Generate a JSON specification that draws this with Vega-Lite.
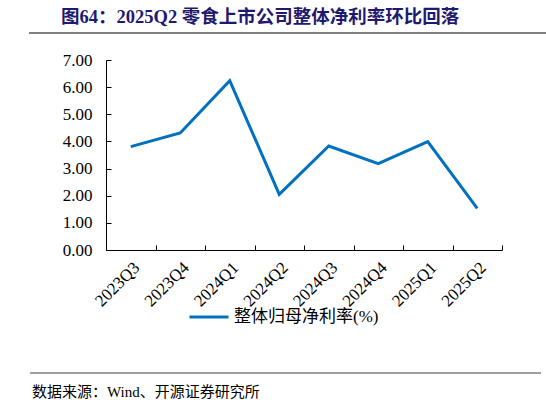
{
  "$schema": "https://vega.github.io/schema/vega-lite/v6.json",
  "padding": {"left": 0, "top": 8, "right": 0, "bottom": 0},
  "background": "white",
  "config": {
    "font": "Liberation Serif, Noto Sans CJK SC"
  },
  "datasets": {
    "margin": [
      {"quarter": "2023Q3", "rate": 3.81, "series": "整体归母净利率(%)"},
      {"quarter": "2023Q4", "rate": 4.31, "series": "整体归母净利率(%)"},
      {"quarter": "2024Q1", "rate": 6.24, "series": "整体归母净利率(%)"},
      {"quarter": "2024Q2", "rate": 2.05, "series": "整体归母净利率(%)"},
      {"quarter": "2024Q3", "rate": 3.83, "series": "整体归母净利率(%)"},
      {"quarter": "2024Q4", "rate": 3.18, "series": "整体归母净利率(%)"},
      {"quarter": "2025Q1", "rate": 3.99, "series": "整体归母净利率(%)"},
      {"quarter": "2025Q2", "rate": 1.53, "series": "整体归母净利率(%)"}
    ],
    "divider": [{"start": 0, "end": 1, "level": 0}]
  },
  "spacing": 17,
  "resolve": {
    "scale": {"x": "independent", "y": "independent", "color": "independent"},
    "axis": {"x": "independent", "y": "independent"},
    "legend": {"color": "independent"}
  },
  "vconcat": [
    {
      "data": {"name": "divider"},
      "width": 396,
      "height": 0.01,
      "view": {"stroke": null},
      "title": {
        "text": "图64：2025Q2 零食上市公司整体净利率环比回落",
        "anchor": "start",
        "frame": "group",
        "dx": -45,
        "offset": 6,
        "fontSize": 18.5,
        "fontWeight": "bold",
        "color": "#1F1A6E",
        "font": "Liberation Serif, Noto Sans CJK SC"
      },
      "mark": {"type": "rule", "color": "black", "strokeWidth": 1},
      "encoding": {
        "x": {"field": "start", "type": "quantitative", "scale": {"domain": [0, 1], "range": [-77, 440]}, "axis": null},
        "x2": {"field": "end"},
        "y": {"field": "level", "type": "quantitative", "scale": {"domain": [0, 1]}, "axis": null}
      }
    },
    {
      "data": {"name": "margin"},
      "width": 396,
      "height": 190,
      "view": {"stroke": null},
      "mark": {"type": "line", "strokeWidth": 3},
      "encoding": {
        "x": {
          "field": "quarter",
          "type": "nominal",
          "sort": null,
          "scale": {"paddingInner": 0, "paddingOuter": 0},
          "axis": {
            "title": null,
            "labelAngle": -45,
            "labelFontSize": 17,
            "labelColor": "black",
            "tickBand": "extent",
            "tickSize": -5,
            "labelPadding": 14,
            "domainColor": "black",
            "tickColor": "black",
            "domainWidth": 1
          }
        },
        "y": {
          "field": "rate",
          "type": "quantitative",
          "scale": {"domain": [0, 7]},
          "axis": {
            "title": null,
            "values": [0, 1, 2, 3, 4, 5, 6, 7],
            "format": ".2f",
            "grid": false,
            "tickSize": -5,
            "labelPadding": 19,
            "minExtent": 106,
            "maxExtent": 106,
            "domainColor": "black",
            "tickColor": "black",
            "labelFontSize": 17,
            "labelColor": "black"
          }
        },
        "color": {
          "field": "series",
          "type": "nominal",
          "scale": {"range": ["#0070C0"]},
          "legend": {
            "orient": "none",
            "legendX": 82,
            "legendY": 236,
            "title": null,
            "symbolType": "stroke",
            "symbolSize": 1521,
            "symbolStrokeWidth": 3,
            "labelFontSize": 17,
            "labelColor": "black",
            "labelFont": "Liberation Serif, Noto Sans CJK SC"
          }
        }
      }
    },
    {
      "data": {"name": "divider"},
      "width": 396,
      "height": 31,
      "view": {"stroke": null},
      "title": {
        "text": "数据来源：Wind、开源证券研究所",
        "orient": "bottom",
        "anchor": "start",
        "frame": "group",
        "dx": -74,
        "offset": 11,
        "fontSize": 15,
        "fontWeight": "normal",
        "color": "black",
        "font": "Liberation Serif, Noto Sans CJK SC"
      },
      "mark": {"type": "rule", "color": "#7F7F7F", "strokeWidth": 1.5},
      "encoding": {
        "x": {"field": "start", "type": "quantitative", "scale": {"domain": [0, 1], "range": [-76, 435]}, "axis": null},
        "x2": {"field": "end"},
        "y": {"field": "level", "type": "quantitative", "scale": {"domain": [0, 1]}, "axis": null}
      }
    }
  ]
}
